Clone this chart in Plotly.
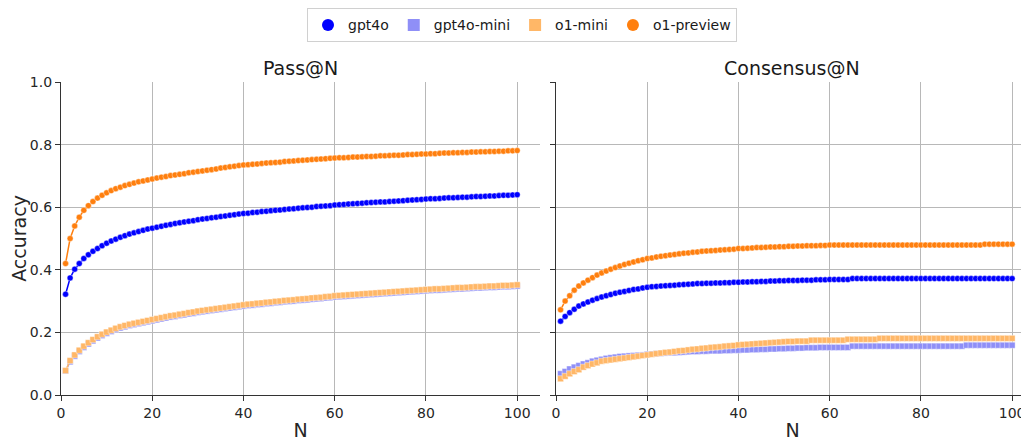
import plotly.graph_objects as go
from plotly.subplots import make_subplots

N = list(range(1, 101))
models = ["gpt4o", "gpt4o-mini", "o1-mini", "o1-preview"]
panel_titles = ["Pass@N", "Consensus@N"]
y_ticks = [0.0, 0.2, 0.4, 0.6, 0.8, 1.0]
x_ticks = [0, 20, 40, 60, 80, 100]

# ---- Pass@N ----
pass_gpt4o = [
    .322, .374, .402, .420, .436, .448, .459, .468, .477, .485, .492, .498, .504, .509, .514, .518, .522, .526, .530, .533,
    .536, .539, .542, .545, .548, .550, .553, .555, .557, .560, .562, .564, .566, .568, .570, .572, .574, .576, .578, .580,
    .581, .583, .584, .586, .587, .589, .590, .591, .593, .594, .595, .597, .598, .599, .600, .602, .603, .604, .605, .607,
    .608, .609, .610, .611, .612, .613, .614, .615, .616, .617, .617, .618, .619, .620, .621, .622, .623, .624, .625, .626,
    .627, .627, .628, .629, .630, .630, .631, .632, .632, .633, .634, .634, .635, .636, .636, .637, .638, .638, .639, .640]
pass_gpt4o_mini = [
    .077, .106, .124, .139, .152, .163, .173, .182, .190, .197, .203, .209, .214, .218, .222, .225, .228, .231, .234, .237,
    .240, .243, .246, .249, .251, .254, .256, .259, .261, .264, .266, .268, .270, .272, .274, .276, .278, .280, .282, .284,
    .286, .287, .289, .290, .292, .293, .295, .296, .298, .299, .300, .302, .303, .304, .306, .307, .308, .310, .311, .313,
    .314, .315, .316, .317, .318, .319, .320, .321, .322, .323, .324, .325, .326, .327, .328, .329, .330, .331, .332, .333,
    .334, .335, .335, .336, .337, .338, .339, .339, .340, .341, .342, .342, .343, .344, .344, .345, .346, .346, .347, .348]
pass_o1_mini = [
    .078, .110, .128, .143, .156, .167, .177, .186, .194, .201, .207, .213, .218, .222, .226, .229, .232, .235, .238, .241,
    .244, .247, .250, .253, .255, .258, .260, .263, .265, .268, .270, .272, .274, .276, .278, .280, .282, .284, .286, .288,
    .290, .291, .293, .294, .296, .297, .299, .300, .302, .303, .304, .306, .307, .308, .310, .311, .312, .314, .315, .317,
    .318, .319, .320, .321, .322, .323, .324, .325, .326, .327, .328, .329, .330, .331, .332, .333, .334, .335, .336, .337,
    .338, .339, .339, .340, .341, .342, .343, .343, .344, .345, .346, .346, .347, .348, .348, .349, .350, .350, .351, .352]
pass_o1_preview = [
    .420, .500, .540, .568, .590, .605, .618, .629, .638, .646, .653, .659, .664, .669, .673, .677, .681, .684, .687, .690,
    .693, .696, .698, .701, .703, .705, .707, .710, .712, .714, .716, .718, .720, .722, .725, .727, .729, .731, .733, .735,
    .736, .737, .738, .740, .741, .742, .743, .744, .746, .747, .748, .749, .750, .751, .752, .753, .754, .755, .756, .757,
    .758, .758, .759, .760, .760, .761, .762, .762, .763, .764, .764, .765, .766, .766, .767, .768, .768, .769, .770, .770,
    .771, .771, .772, .773, .773, .774, .774, .775, .775, .776, .776, .777, .777, .778, .778, .779, .779, .780, .780, .781]

# ---- Consensus@N ----
cons_gpt4o = [
    .236, .251, .263, .274, .284, .291, .297, .303, .308, .313, .317, .321, .325, .328, .331, .334, .337, .339, .342, .344,
    .346, .347, .348, .349, .350, .351, .352, .353, .354, .355, .356, .356, .357, .357, .358, .358, .359, .359, .360, .360,
    .361, .361, .362, .362, .363, .363, .364, .364, .365, .365, .366, .366, .366, .367, .367, .367, .368, .368, .368, .369,
    .369, .369, .369, .369, .372, .372, .372, .372, .372, .372, .372, .372, .372, .372, .372, .372, .372, .372, .372, .372,
    .372, .372, .372, .372, .372, .372, .372, .372, .372, .372, .372, .372, .372, .372, .372, .372, .372, .372, .372, .372]
cons_gpt4o_mini = [
    .068, .075, .083, .089, .094, .099, .103, .108, .111, .114, .117, .119, .121, .123, .124, .125, .126, .127, .128, .130,
    .131, .132, .133, .134, .135, .135, .136, .137, .138, .139, .139, .140, .140, .141, .141, .141, .142, .142, .143, .143,
    .144, .144, .145, .145, .146, .146, .147, .147, .148, .148, .149, .149, .150, .150, .151, .151, .151, .152, .152, .152,
    .152, .152, .152, .152, .156, .156, .156, .156, .156, .156, .156, .156, .156, .156, .156, .156, .156, .156, .156, .156,
    .156, .156, .156, .156, .156, .156, .156, .156, .156, .159, .159, .159, .159, .159, .159, .159, .159, .159, .159, .159]
cons_o1_mini = [
    .052, .060, .068, .075, .081, .089, .094, .099, .103, .108, .110, .112, .114, .116, .118, .120, .122, .124, .126, .128,
    .130, .132, .134, .136, .137, .139, .141, .142, .144, .146, .147, .149, .150, .152, .153, .154, .156, .157, .158, .160,
    .161, .162, .163, .164, .165, .166, .167, .168, .169, .170, .171, .171, .172, .172, .172, .175, .175, .175, .175, .175,
    .175, .175, .175, .178, .178, .178, .178, .178, .178, .178, .181, .181, .181, .181, .181, .181, .181, .181, .181, .181,
    .181, .181, .181, .181, .181, .181, .181, .181, .181, .181, .181, .181, .181, .181, .181, .181, .181, .181, .181, .181]
cons_o1_preview = [
    .272, .300, .317, .335, .348, .358, .367, .375, .383, .390, .396, .402, .407, .412, .417, .421, .425, .429, .432, .436,
    .438, .441, .443, .445, .447, .449, .451, .453, .454, .456, .457, .459, .460, .461, .462, .463, .464, .465, .466, .468,
    .468, .469, .470, .471, .471, .472, .473, .473, .474, .474, .475, .475, .476, .476, .477, .477, .477, .478, .478, .479,
    .479, .479, .479, .479, .479, .479, .479, .479, .479, .479, .479, .479, .479, .479, .479, .479, .479, .479, .479, .479,
    .479, .479, .479, .479, .479, .479, .479, .479, .479, .479, .479, .479, .479, .482, .482, .482, .482, .482, .482, .482]

pass_data = [pass_gpt4o, pass_gpt4o_mini, pass_o1_mini, pass_o1_preview]
cons_data = [cons_gpt4o, cons_gpt4o_mini, cons_o1_mini, cons_o1_preview]

colors = {"gpt4o": "#0000ff", "gpt4o-mini": "#8f8ff7", "o1-mini": "#ffb767", "o1-preview": "#ff7f0e"}
symbols = {"gpt4o": "circle", "gpt4o-mini": "square", "o1-mini": "square", "o1-preview": "circle"}

# The page body adds an 8px offset, so the figure is sized/placed to compensate.
OFF = 8
W, H = 1029 - OFF, 441 - OFF
ML, MR, MT, MB = 61 - OFF, 0, 76 - OFF, 46
PW = W - ML - MR
PH = H - MT - MB

fig = make_subplots(rows=1, cols=2, shared_yaxes=True)

for col, data in ((1, pass_data), (2, cons_data)):
    for m, ys in zip(models, data):
        fig.add_trace(go.Scatter(
            x=N, y=ys, mode="lines+markers", name=m, showlegend=False,
            line=dict(color=colors[m], width=1.5),
            marker=dict(symbol=symbols[m], size=6, color=colors[m],
                        line=dict(color="white", width=0.4)),
        ), row=1, col=col)

for m in models:
    fig.add_trace(go.Scatter(
        x=[None], y=[None], mode="markers", name=m, showlegend=True,
        marker=dict(symbol=symbols[m], size=12, color=colors[m]),
    ), row=1, col=1)

font = "DejaVu Sans, Arial, sans-serif"
axis_common = dict(
    showgrid=True, gridcolor="#b8b8b8", gridwidth=1,
    showline=True, linecolor="#333333", linewidth=1.2,
    ticks="outside", ticklen=5, tickwidth=1.2, tickcolor="#333333",
    tickfont=dict(size=14, color="#262626", family=font),
    zeroline=False,
)

left_end = (540 - 61) / PW
right_start = (556 - 61) / PW

fig.update_xaxes(**axis_common, tickvals=x_ticks)
fig.update_yaxes(**axis_common, tickvals=y_ticks, tickformat=".1f", range=[0, 1])
fig.update_xaxes(domain=[0, left_end], range=[0, 105],
                 title=dict(text="N", font=dict(size=19, family=font, color="#262626"), standoff=4),
                 row=1, col=1)
fig.update_xaxes(domain=[right_start, 1], range=[0, 103.7],
                 title=dict(text="N", font=dict(size=19, family=font, color="#262626"), standoff=4),
                 row=1, col=2)
fig.update_yaxes(title=dict(text="Accuracy", font=dict(size=19, family=font, color="#262626"), standoff=3),
                 row=1, col=1)
fig.update_yaxes(showticklabels=False, row=1, col=2)

for i, t in enumerate(panel_titles):
    x0, x1 = (0, left_end) if i == 0 else (right_start, 1)
    fig.add_annotation(text=t, x=(x0 + x1) / 2, y=1, xref="paper", yref="paper",
                       xanchor="center", yanchor="bottom", showarrow=False, yshift=1,
                       font=dict(size=19, family=font, color="#1a1a1a"))

fig.update_layout(
    width=W, height=H,
    margin=dict(l=ML, r=MR, t=MT, b=MB),
    plot_bgcolor="white", paper_bgcolor="white",
    font=dict(family=font, color="#262626"),
    legend=dict(orientation="h", x=(522 - 61) / PW, xanchor="center",
                y=1 + (76 - 1) / PH, yanchor="top",
                bordercolor="#d0d0d0", borderwidth=1, bgcolor="white",
                font=dict(size=14, family=font, color="#1a1a1a"),
                itemsizing="trace", entrywidth=0),
)

fig.write_html("out.html")
